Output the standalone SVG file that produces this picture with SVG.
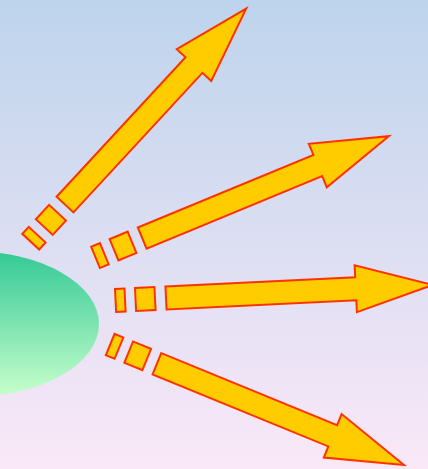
<svg xmlns="http://www.w3.org/2000/svg" width="428" height="469" viewBox="0 0 428 469">
  <defs>
    <linearGradient id="bg" x1="0" y1="0" x2="0" y2="1">
      <stop offset="0" stop-color="#BDD4EC"/>
      <stop offset="1" stop-color="#FAE8F8"/>
    </linearGradient>
    <linearGradient id="blob" x1="0" y1="0" x2="0" y2="1">
      <stop offset="0" stop-color="#33C996"/>
      <stop offset="1" stop-color="#C8FFCC"/>
    </linearGradient>
    <g id="arrow">
      <rect x="-50.5" y="-11.5" width="9.5" height="23"/>
      <rect x="-30.5" y="-11.5" width="19.5" height="23"/>
      <path d="M0,-11.5 L190,-11.5 L190,-23.5 L267,0 L190,23.5 L190,11.5 L0,11.5 Z"/>
    </g>
  </defs>
  <style>
    .arr { fill: #FFCC00; stroke: #FF3300; stroke-width: 2; stroke-linejoin: miter; }
  </style>
  <rect id="background" x="0" y="0" width="428" height="469" fill="url(#bg)"/>
  <g id="blob-node">
    <ellipse cx="-30" cy="324" rx="129" ry="73" fill="url(#blob)"/>
  </g>
  <g id="connectors" class="arr">
    <use id="arrow1" href="#arrow" transform="translate(65,204.6) rotate(-47.25)"/>
    <use id="arrow2" href="#arrow" transform="translate(142.2,238.1) rotate(-22.45)"/>
    <use id="arrow3" href="#arrow" transform="translate(166,298) rotate(-2.8)"/>
    <use id="arrow4" href="#arrow" transform="translate(156.9,363.7) rotate(22.3)"/>
  </g>
</svg>
